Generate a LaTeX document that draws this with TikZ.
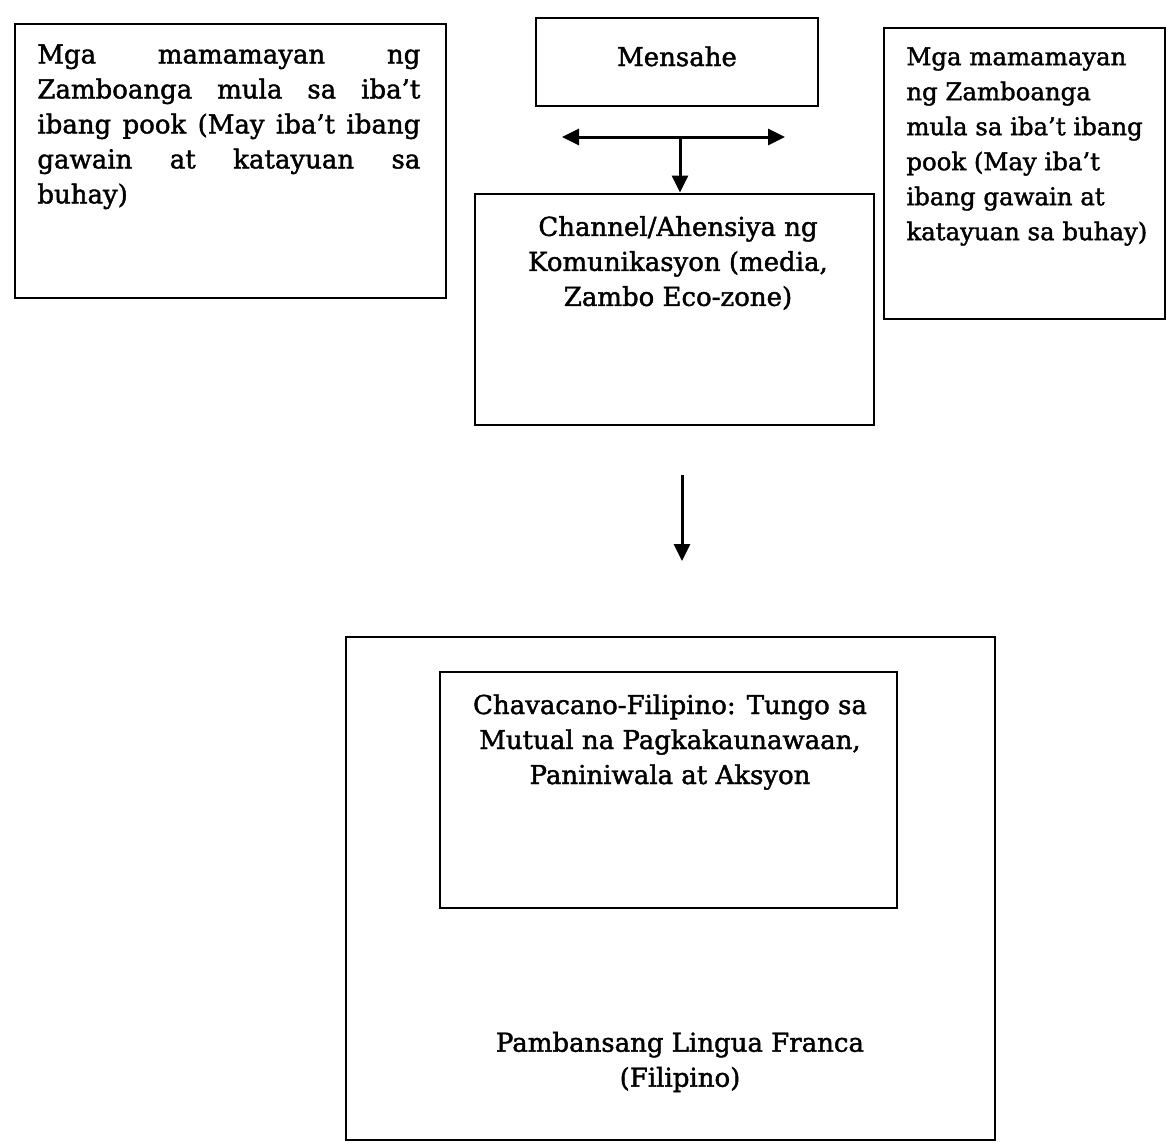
\documentclass[tikz,border=0pt]{standalone}
\usepackage{fontspec}
\setmainfont{DejaVu Serif}[FakeBold=1.6]
\usetikzlibrary{fit,arrows.meta}
\begin{document}
\begin{tikzpicture}[x=0.5pt,y=-0.5pt,
  box/.style={draw, line width=1.4pt, inner sep=0pt},
  txt/.style={inner sep=0pt, font=\fontsize{13}{17.5}\selectfont},
  arr/.style={line width=1.5pt, -{Triangle[length=8.5pt,width=8pt]}},
  darr/.style={line width=1.5pt, {Triangle[length=8.5pt,width=8pt]}-{Triangle[length=8.5pt,width=8pt]}}]
\useasboundingbox[fill=white] (0,0) rectangle (1168,1142);
% boxes
\node[box, fit={(15,24)(446,298)}] (left) {};
\node[box, fit={(536,18)(818,106)}] (msg) {};
\node[box, fit={(475,194)(874,425)}] (chan) {};
\node[box, fit={(884,28)(1165,319)}] (right) {};
\node[box, fit={(346,637)(995,1140)}] (outer) {};
\node[box, fit={(440,672)(897,908)}] (inner) {};
% texts
\node[txt, anchor=north west] (lt) at (37,44) {%
  \parbox{191.5pt}{%
  \makebox[191.5pt][s]{Mga mamamayan ng}\\
  \makebox[191.5pt][s]{Zamboanga mula sa iba't}\\
  \makebox[191.5pt][s]{ibang pook (May iba't ibang}\\
  \makebox[191.5pt][s]{gawain at katayuan sa}\\
  buhay)}};
\node[txt, anchor=base] (mt) at (677,66) {Mensahe};
\node[txt, align=center] (ct) at (678,263) {Channel/Ahensiya ng\\Komunikasyon (media,\\Zambo Eco-zone)};
\node[txt, align=left, anchor=north west, font=\fontsize{12.2}{17.5}\selectfont] (rt) at (906,47) {Mga mamamayan\\ng Zamboanga\\mula sa iba't ibang\\pook (May iba't\\ibang gawain at\\katayuan sa buhay)};
\node[txt, align=center] (it) at (670,742) {Chavacano-Filipino: Tungo sa\\Mutual na Pagkakaunawaan,\\Paniniwala at Aksyon};
\node[txt, align=center] (ot) at (680,1062) {Pambansang Lingua Franca\\(Filipino)};
% connectors
\coordinate (dl) at (562,137);
\coordinate (dr) at (785,137);
\coordinate (dj) at (680,137);
\draw[darr] (dl) -- (dr);
\draw[arr] (dj) -- (dj |- chan.north);
\coordinate (a1) at (682,475);
\coordinate (a2) at (682,561);
\draw[arr] (a1) -- (a2);
\end{tikzpicture}
\end{document}
